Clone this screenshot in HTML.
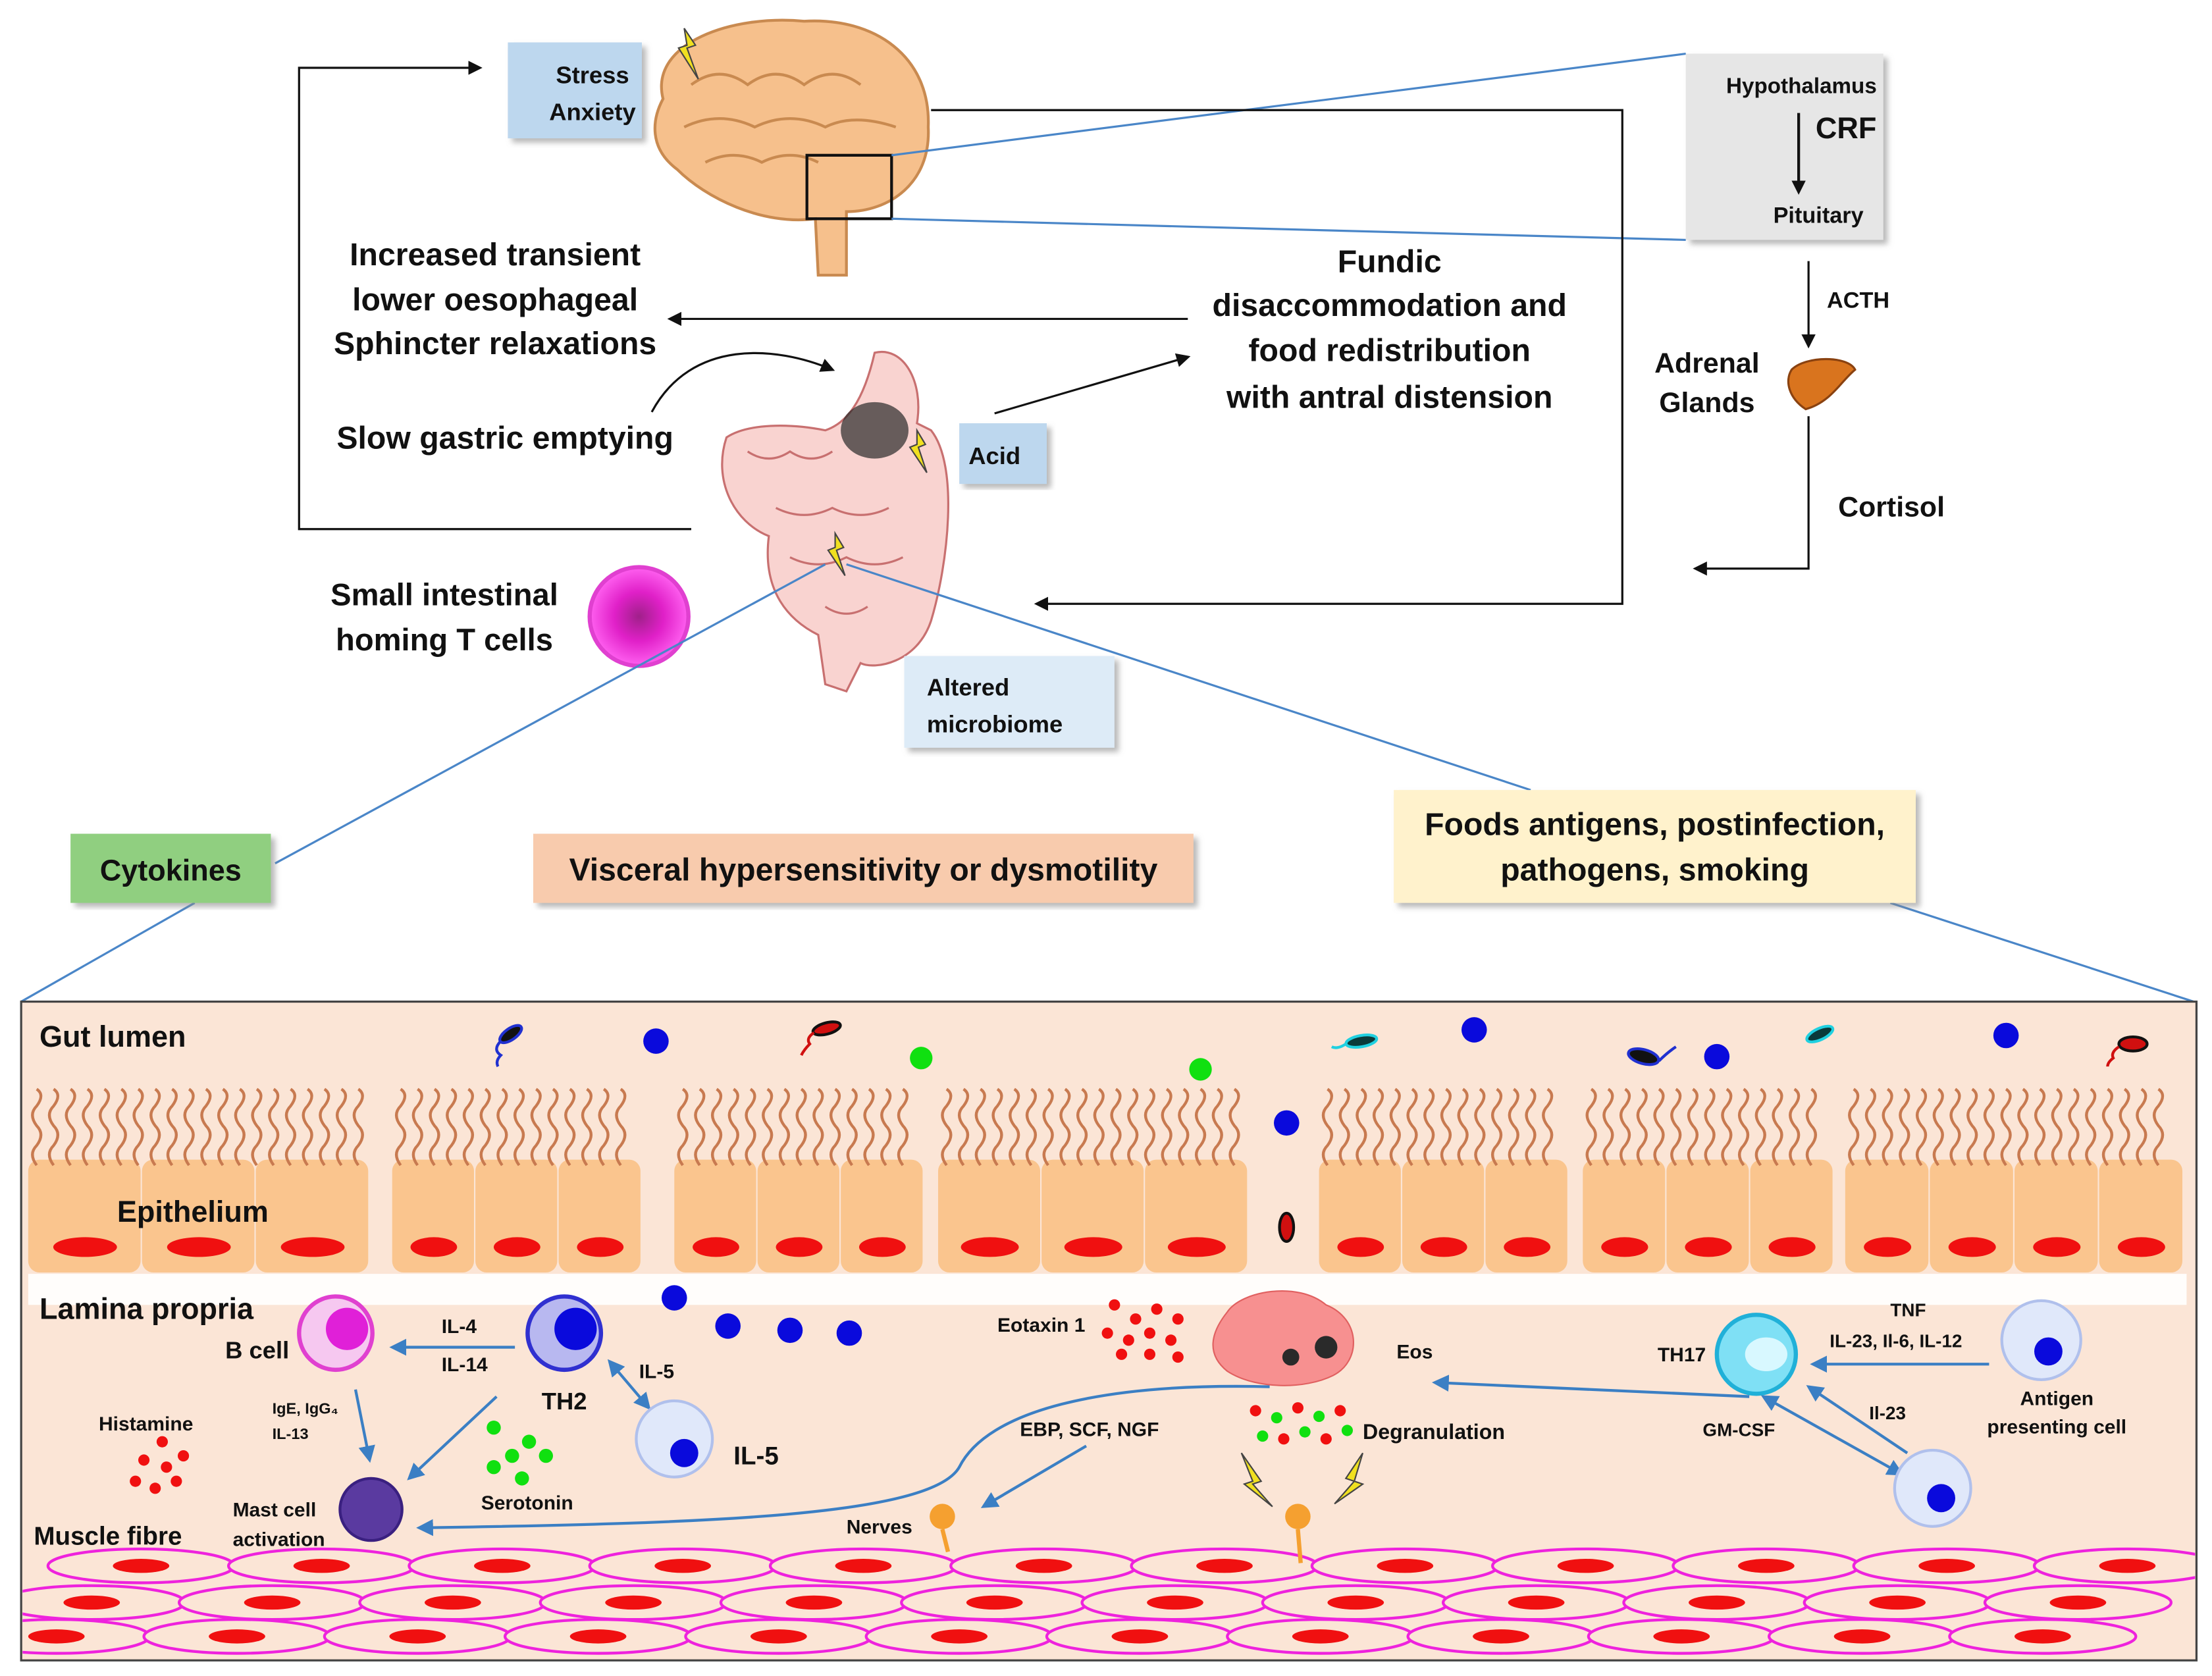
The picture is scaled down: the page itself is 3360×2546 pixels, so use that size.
<!DOCTYPE html>
<html><head><meta charset="utf-8"><style>
html,body{margin:0;padding:0;background:#fff;}
svg{display:block;}
text{font-family:"Liberation Sans",sans-serif;font-weight:bold;fill:#111;}
</style></head><body>
<svg id="s" width="3360" height="2546" viewBox="0 0 1568 1188" xmlns="http://www.w3.org/2000/svg">
<defs>
<marker id="ak" markerWidth="10" markerHeight="10" refX="8" refY="5" orient="auto" markerUnits="userSpaceOnUse"><path d="M0,0 L10,5 L0,10 z" fill="#111"/></marker>
<marker id="ab" markerWidth="12" markerHeight="12" refX="10" refY="6" orient="auto" markerUnits="userSpaceOnUse"><path d="M0,0 L12,6 L0,12 z" fill="#3b7fc4"/></marker>
<marker id="abs" markerWidth="12" markerHeight="12" refX="2" refY="6" orient="auto" markerUnits="userSpaceOnUse"><path d="M12,0 L0,6 L12,12 z" fill="#3b7fc4"/></marker>
<filter id="sh"><feDropShadow dx="3" dy="3" stdDeviation="2" flood-color="#888" flood-opacity="0.6"/></filter>
<radialGradient id="tc"><stop offset="0" stop-color="#a0208a"/><stop offset="0.5" stop-color="#e020c8"/><stop offset="1" stop-color="#ff60f0"/></radialGradient>
<clipPath id="pc"><rect x="16" y="711" width="1540" height="465"/></clipPath>
</defs>

<rect x="360" y="30" width="95" height="68" fill="#bdd7ee" filter="url(#sh)"/>
<text x="420" y="59" font-size="17" text-anchor="middle" font-weight="normal">Stress</text>
<text x="420" y="85" font-size="17" text-anchor="middle" font-weight="normal">Anxiety</text>

<path d="M470,70 C460,30 520,10 570,15 C620,12 660,40 658,90 C660,130 630,150 600,150 L600,195 L580,195 L578,155 C540,160 500,140 480,120 C460,105 462,85 470,70 z" fill="#f6c08c" stroke="#c98a50" stroke-width="2"/>
<path d="M490,60 q20,-15 40,0 q20,-15 40,0 q20,-15 40,0 M485,90 q25,-12 50,0 q25,-12 50,0 q20,-10 50,0 M500,115 q20,-10 40,0 q20,-10 40,0" fill="none" stroke="#c98a50" stroke-width="2"/>
<path d="M485,20 l8,12 l-6,2 l8,22 l-14,-22 l6,-2 z" fill="#f0e020" stroke="#444" stroke-width="1"/>
<rect x="572" y="110" width="60" height="45" fill="none" stroke="#111" stroke-width="2"/>
<line x1="632" y1="110" x2="1195" y2="38" stroke="#4a86c8" stroke-width="1.5"/>
<line x1="632" y1="155" x2="1195" y2="170" stroke="#4a86c8" stroke-width="1.5"/>

<rect x="1195" y="38" width="140" height="132" fill="#e6e6e6" filter="url(#sh)"/>
<text x="1277" y="66" font-size="15.5" text-anchor="middle">Hypothalamus</text>
<text x="1287" y="98" font-size="21" text-anchor="start">CRF</text>
<line x1="1275" y1="80" x2="1275" y2="136" stroke="#111" stroke-width="2" marker-end="url(#ak)"/>
<text x="1289" y="158" font-size="16" text-anchor="middle">Pituitary</text>

<line x1="1282" y1="185" x2="1282" y2="245" stroke="#111" stroke-width="1.5" marker-end="url(#ak)"/>
<text x="1295" y="218" font-size="16">ACTH</text>
<text x="1210" y="264" font-size="20" text-anchor="middle">Adrenal</text>
<text x="1210" y="292" font-size="20" text-anchor="middle">Glands</text>
<path d="M1270,262 C1280,252 1310,252 1315,262 C1305,270 1298,285 1280,290 C1268,282 1265,270 1270,262 z" fill="#d9741e" stroke="#8a4210" stroke-width="1.5"/>
<polyline points="1282,295 1282,403 1202,403" fill="none" stroke="#111" stroke-width="1.5" marker-end="url(#ak)"/>
<text x="1303" y="366" font-size="20">Cortisol</text>

<polyline points="490,375 212,375 212,48 340,48" fill="none" stroke="#111" stroke-width="1.5" marker-end="url(#ak)"/>
<polyline points="660,78 1150,78 1150,428 735,428" fill="none" stroke="#111" stroke-width="1.5" marker-end="url(#ak)"/>
<line x1="842" y1="226" x2="475" y2="226" stroke="#111" stroke-width="1.5" marker-end="url(#ak)"/>
<line x1="705" y1="293" x2="842" y2="253" stroke="#111" stroke-width="1.5" marker-end="url(#ak)"/>
<path d="M462,292 C490,240 550,245 590,262" fill="none" stroke="#111" stroke-width="1.5" marker-end="url(#ak)"/>

<g font-size="22.5" text-anchor="middle">
<text x="351" y="188">Increased transient</text>
<text x="351" y="220">lower oesophageal</text>
<text x="351" y="251">Sphincter relaxations</text>
<text x="358" y="318">Slow gastric emptying</text>
<text x="985" y="193">Fundic</text>
<text x="985" y="224">disaccommodation and</text>
<text x="985" y="256">food redistribution</text>
<text x="985" y="289">with antral distension</text>
</g>

<path d="M620,250 C640,245 655,270 650,300 L660,305 C680,330 672,400 660,440 C650,470 620,475 610,470 L600,490 L585,485 L580,450 C560,440 540,420 545,380 C520,370 505,340 515,310 C530,300 560,300 585,305 C600,300 612,285 620,250 z" fill="#f9d3d0" stroke="#c87070" stroke-width="1.5"/>
<path d="M530,320 q15,10 30,0 q15,10 30,0 M550,360 q20,10 40,0 q20,10 40,0 M560,395 q20,10 40,0 q20,10 40,0 M585,430 q15,10 30,0" fill="none" stroke="#c87070" stroke-width="1.5"/>
<ellipse cx="620" cy="305" rx="24" ry="20" fill="#2a2a2a" opacity="0.7"/>
<path d="M650,305 l6,10 l-5,2 l6,18 l-12,-18 l5,-2 z" fill="#f0e020" stroke="#444"/>
<path d="M592,378 l6,10 l-5,2 l6,18 l-12,-18 l5,-2 z" fill="#f0e020" stroke="#444"/>
<rect x="680" y="300" width="62" height="43" fill="#bdd7ee" filter="url(#sh)"/>
<text x="705" y="329" font-size="17" text-anchor="middle" font-weight="normal">Acid</text>
<rect x="641" y="465" width="149" height="65" fill="#ddebf7" filter="url(#sh)"/>
<text x="657" y="493" font-size="17" font-weight="normal">Altered</text>
<text x="657" y="519" font-size="17" font-weight="normal">microbiome</text>

<circle cx="453" cy="437" r="35" fill="url(#tc)" stroke="#e040d0" stroke-width="3"/>
<text x="315" y="429" font-size="22" text-anchor="middle">Small intestinal</text>
<text x="315" y="461" font-size="22" text-anchor="middle">homing T cells</text>

<line x1="585" y1="400" x2="195" y2="612" stroke="#4a86c8" stroke-width="1.5"/>
<line x1="600" y1="400" x2="1085" y2="560" stroke="#4a86c8" stroke-width="1.5"/>
<line x1="138" y1="640" x2="15" y2="710" stroke="#4a86c8" stroke-width="1.5"/>
<line x1="1340" y1="640" x2="1555" y2="710" stroke="#4a86c8" stroke-width="1.5"/>

<rect x="50" y="591" width="142" height="49" fill="#90cf80" filter="url(#sh)"/>
<text x="121" y="624" font-size="21" text-anchor="middle">Cytokines</text>
<rect x="378" y="591" width="468" height="49" fill="#f8cbad" filter="url(#sh)"/>
<text x="612" y="624" font-size="22.5" text-anchor="middle">Visceral hypersensitivity or dysmotility</text>
<rect x="988" y="560" width="370" height="80" fill="#fff2cc" filter="url(#sh)"/>
<text x="1173" y="592" font-size="22.5" text-anchor="middle">Foods antigens, postinfection,</text>
<text x="1173" y="624" font-size="22.5" text-anchor="middle">pathogens, smoking</text>

<rect x="15" y="710" width="1542" height="467" fill="#fbe5d6" stroke="#444" stroke-width="1.5"/>
<g id="epi"></g>
<rect x="20" y="903" width="1530" height="22" fill="#fff" opacity="0.9"/>
<g id="mus" clip-path="url(#pc)"></g>
<g id="dots"></g>
<g fill="none" stroke-width="2">
<ellipse cx="362" cy="733" rx="9" ry="4" fill="#111" stroke="#2030d0" transform="rotate(-35 362 733)"/>
<path d="M355,738 q-6,6 0,10 q-4,4 -2,8" stroke="#2030d0"/>
<ellipse cx="586" cy="729" rx="10" ry="4" fill="#d01010" stroke="#111" transform="rotate(-15 586 729)"/>
<path d="M577,732 q-6,4 -3,8 q-4,4 -6,8" stroke="#d01010"/>
<ellipse cx="965" cy="738" rx="11" ry="4" fill="#0a3a3a" stroke="#20d0e0" transform="rotate(-10 965 738)"/>
<path d="M954,740 q-6,4 -10,2" stroke="#20d0e0"/>
<ellipse cx="1165" cy="749" rx="11" ry="5" fill="#111" stroke="#2030d0" transform="rotate(15 1165 749)"/>
<path d="M1176,752 q6,-6 12,-10" stroke="#2030d0"/>
<ellipse cx="1290" cy="733" rx="10" ry="4" fill="#0a3a3a" stroke="#20d0e0" transform="rotate(-25 1290 733)"/>
<ellipse cx="1512" cy="740" rx="10" ry="5" fill="#d01010" stroke="#111"/>
<path d="M1502,742 q-6,4 -4,8 q-4,3 -4,6" stroke="#d01010"/>
<ellipse cx="912" cy="870" rx="5" ry="10" fill="#d01010" stroke="#111"/>
</g>

<text x="28" y="742" font-size="21">Gut lumen</text>
<text x="83" y="866" font-size="21">Epithelium</text>
<text x="28" y="935" font-size="21">Lamina propria</text>
<text x="24" y="1095" font-size="18" font-weight="normal">Muscle  fibre</text>
<text x="70" y="1014" font-size="14" font-weight="normal">Histamine</text>

<circle cx="238" cy="945" r="26" fill="#f6c8f0" stroke="#e040d0" stroke-width="3"/>
<circle cx="246" cy="942" r="15" fill="#e020d8"/>
<text x="205" y="963" font-size="17" text-anchor="end" font-weight="normal">B cell</text>
<circle cx="400" cy="945" r="26" fill="#b8b8f0" stroke="#3030d0" stroke-width="3"/>
<circle cx="408" cy="942" r="15" fill="#0a0adc"/>
<text x="400" y="999" font-size="17" text-anchor="middle" font-weight="normal">TH2</text>
<line x1="365" y1="955" x2="278" y2="955" stroke="#3b7fc4" stroke-width="2" marker-end="url(#ab)"/>
<text x="313" y="945" font-size="14" font-weight="normal">IL-4</text>
<text x="313" y="972" font-size="14" font-weight="normal">IL-14</text>
<line x1="432" y1="965" x2="460" y2="998" stroke="#3b7fc4" stroke-width="2" marker-end="url(#ab)" marker-start="url(#abs)"/>
<text x="453" y="977" font-size="14" font-weight="normal">IL-5</text>
<circle cx="478" cy="1020" r="27" fill="#e0e8fa" stroke="#b0c0ec" stroke-width="2"/>
<circle cx="485" cy="1030" r="10" fill="#0a0adc"/>
<text x="520" y="1038" font-size="18" font-weight="normal">IL-5</text>
<line x1="252" y1="985" x2="262" y2="1035" stroke="#3b7fc4" stroke-width="2" marker-end="url(#ab)"/>
<text x="193" y="1002" font-size="11" font-weight="normal">IgE, IgG₄</text>
<text x="193" y="1020" font-size="11" font-weight="normal">IL-13</text>
<line x1="352" y1="990" x2="290" y2="1048" stroke="#3b7fc4" stroke-width="2" marker-end="url(#ab)"/>
<circle cx="263" cy="1070" r="22" fill="#5a3aa0" stroke="#3a2080" stroke-width="2"/>
<text x="165" y="1075" font-size="14" font-weight="normal">Mast cell</text>
<text x="165" y="1096" font-size="14" font-weight="normal">activation</text>
<text x="341" y="1070" font-size="14" font-weight="normal">Serotonin</text>
<path d="M900,983 C780,980 700,1000 680,1040 C660,1075 500,1080 297,1083" fill="none" stroke="#3b7fc4" stroke-width="2" marker-end="url(#ab)"/>
<text x="723" y="1018" font-size="14" font-weight="normal">EBP, SCF, NGF</text>
<line x1="770" y1="1025" x2="697" y2="1068" stroke="#3b7fc4" stroke-width="2" marker-end="url(#ab)"/>
<text x="600" y="1087" font-size="14" font-weight="normal">Nerves</text>
<circle cx="668" cy="1075" r="9" fill="#f5a030"/>
<circle cx="920" cy="1075" r="9" fill="#f5a030"/>
<line x1="668" y1="1084" x2="672" y2="1100" stroke="#f5a030" stroke-width="3"/>
<line x1="920" y1="1084" x2="922" y2="1108" stroke="#f5a030" stroke-width="3"/>
<path d="M880,1030 l14,20 l-6,2 l14,16 l-20,-16 l6,-2 z" fill="#f0e020" stroke="#444"/>
<path d="M966,1030 l-12,18 l6,2 l-14,16 l20,-14 l-6,-2 z" fill="#f0e020" stroke="#444"/>
<text x="707" y="944" font-size="14" font-weight="normal">Eotaxin 1</text>
<path d="M870,930 C880,915 920,908 940,925 C965,935 965,965 945,975 C925,985 890,985 870,972 C855,960 858,945 870,930 z" fill="#f79090" stroke="#e06060"/>
<circle cx="915" cy="962" r="6" fill="#2a2a2a"/>
<circle cx="940" cy="955" r="8" fill="#2a2a2a"/>
<text x="990" y="963" font-size="14" font-weight="normal">Eos</text>
<text x="966" y="1020" font-size="15" font-weight="normal">Degranulation</text>
<circle cx="1245" cy="960" r="28" fill="#7fe0f5" stroke="#20b0d8" stroke-width="3"/>
<ellipse cx="1252" cy="960" rx="15" ry="12" fill="#d8f8ff"/>
<text x="1175" y="965" font-size="14" font-weight="normal">TH17</text>
<line x1="1410" y1="967" x2="1285" y2="967" stroke="#3b7fc4" stroke-width="2" marker-end="url(#ab)"/>
<text x="1340" y="933" font-size="13" font-weight="normal">TNF</text>
<text x="1297" y="955" font-size="13" font-weight="normal">IL-23, Il-6, IL-12</text>
<circle cx="1447" cy="950" r="28" fill="#e0e8fa" stroke="#b0c0ec" stroke-width="2"/>
<circle cx="1452" cy="958" r="10" fill="#0a0adc"/>
<text x="1458" y="996" font-size="14" font-weight="normal" text-anchor="middle">Antigen</text>
<text x="1458" y="1016" font-size="14" font-weight="normal" text-anchor="middle">presenting cell</text>
<line x1="1240" y1="990" x2="1017" y2="980" stroke="#3b7fc4" stroke-width="2" marker-end="url(#ab)"/>
<text x="1207" y="1018" font-size="13" font-weight="normal">GM-CSF</text>
<line x1="1250" y1="990" x2="1348" y2="1045" stroke="#3b7fc4" stroke-width="2" marker-end="url(#ab)" marker-start="url(#abs)"/>
<line x1="1352" y1="1030" x2="1282" y2="983" stroke="#3b7fc4" stroke-width="2" marker-end="url(#ab)"/>
<text x="1325" y="1006" font-size="13" font-weight="normal">Il-23</text>
<circle cx="1370" cy="1055" r="27" fill="#e0e8fa" stroke="#b0c0ec" stroke-width="2"/>
<circle cx="1376" cy="1062" r="10" fill="#0a0adc"/>
</svg>
<script>
var NS="http://www.w3.org/2000/svg";
function el(p,t,a){var e=document.createElementNS(NS,t);for(var k in a)e.setAttribute(k,a[k]);document.getElementById(p).appendChild(e);return e;}
var groups=[[20,262,3],[278,455,3],[478,655,3],[665,885,3],[935,1112,3],[1122,1300,3],[1308,1548,4]];
groups.forEach(function(g){
 var w=(g[1]-g[0])/g[2];
 for(var i=0;i<g[2];i++){var x=g[0]+i*w;
  el("epi","rect",{x:x,y:822,width:w-1,height:80,rx:8,fill:"#fac58e"});
  el("epi","ellipse",{cx:x+w/2,cy:884,rx:w*0.28,ry:7,fill:"#f01010"});
 }
 for(var x=g[0]+6;x<g[1]-6;x+=12){
  el("epi","path",{d:"M"+x+",826 q-6,-8 0,-14 q6,-8 0,-14 q-6,-8 0,-14 q6,-8 0,-12",fill:"none",stroke:"#c87a50","stroke-width":2});
 }
});
var rows=[[1110,100],[1136,65],[1160,40]];
rows.forEach(function(r){for(var cx=r[1];cx<1560;cx+=128){
 el("mus","ellipse",{cx:cx,cy:r[0],rx:66,ry:12,fill:"#fbe5d6",stroke:"#ee22dd","stroke-width":2});
 el("mus","ellipse",{cx:cx,cy:r[0],rx:20,ry:5,fill:"#f01010"});
}});
function dot(x,y,r,c){el("dots","circle",{cx:x,cy:y,r:r,fill:c});}
[[465,738],[1045,730],[1217,749],[1422,734],[912,796],[478,920],[516,940],[560,943],[602,945]].forEach(function(p){dot(p[0],p[1],9,"#0a0adc");});
[[653,750],[851,758]].forEach(function(p){dot(p[0],p[1],8,"#10e010");});
[[350,1012],[375,1022],[387,1032],[363,1032],[350,1040],[370,1048]].forEach(function(p){dot(p[0],p[1],5,"#10e010");});
[[115,1022],[102,1035],[118,1040],[130,1032],[96,1050],[110,1055],[125,1050]].forEach(function(p){dot(p[0],p[1],4,"#f01010");});
[[790,925],[805,935],[820,928],[835,935],[785,945],[800,950],[815,945],[830,950],[795,960],[815,960],[835,962]].forEach(function(p){dot(p[0],p[1],4,"#f01010");});
[[890,1000],[905,1005],[920,998],[935,1004],[950,1000],[895,1018],[910,1020],[925,1015],[940,1020],[955,1014]].forEach(function(p,i){dot(p[0],p[1],4,i%2?"#10e010":"#f01010");});
</script>
</body></html>
